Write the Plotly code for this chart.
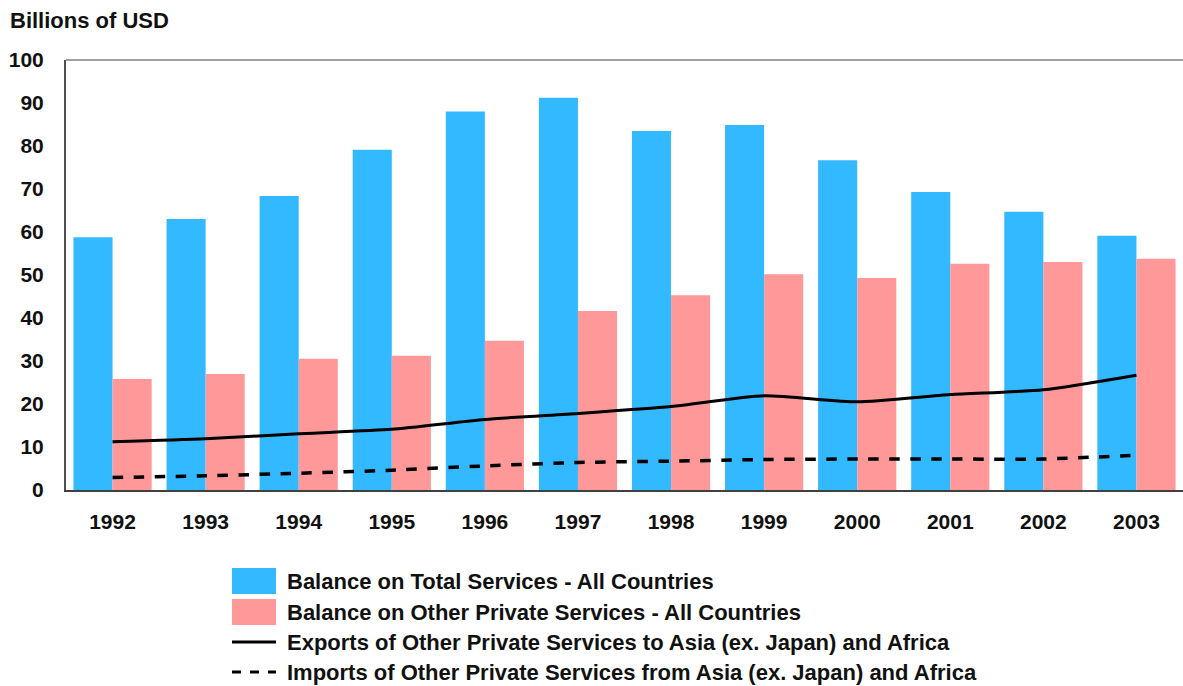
import plotly.graph_objects as go

years = ["1992", "1993", "1994", "1995", "1996", "1997",
         "1998", "1999", "2000", "2001", "2002", "2003"]
total_services = [58.8, 63.0, 68.4, 79.1, 88.0, 91.2, 83.5, 84.9, 76.7, 69.3, 64.7, 59.1]
other_private = [25.8, 27.0, 30.5, 31.2, 34.7, 41.6, 45.3, 50.2, 49.3, 52.6, 53.0, 53.8]
exports_asia_africa = [11.2, 11.9, 13.1, 14.1, 16.4, 17.8, 19.4, 21.9, 20.5, 22.2, 23.3, 26.7]
imports_asia_africa = [2.9, 3.3, 3.9, 4.6, 5.6, 6.4, 6.7, 7.1, 7.2, 7.2, 7.2, 8.1]

series_names = [
    "Balance on Total Services - All Countries",
    "Balance on Other Private Services - All Countries",
    "Exports of Other Private Services to Asia (ex. Japan) and Africa",
    "Imports of Other Private Services from Asia (ex. Japan) and Africa",
]

BLUE = "#33b9ff"
PINK = "#ff9999"
FONT = "Liberation Sans, Arial, sans-serif"
TEXT = "#111111"

W, H = 1183, 686
ML, MR, MT, MB = 66, 0, 60, 196
PW, PH = W - ML - MR, H - MT - MB


def px_to_paper(x, y):
    return (x - ML) / PW, (H - MB - y) / PH


fig = go.Figure()
fig.add_trace(go.Bar(x=years, y=total_services, name=series_names[0],
                     marker=dict(color=BLUE, line=dict(width=0))))
fig.add_trace(go.Bar(x=years, y=other_private, name=series_names[1],
                     marker=dict(color=PINK, line=dict(width=0))))
fig.add_trace(go.Scatter(x=years, y=exports_asia_africa, name=series_names[2],
                         mode="lines", line=dict(color="black", width=3,
                                                 shape="spline", smoothing=0.6)))
fig.add_trace(go.Scatter(x=years, y=imports_asia_africa, name=series_names[3],
                         mode="lines", line=dict(color="black", width=3.5,
                                                 dash="dash", shape="spline",
                                                 smoothing=0.6)))

# hand-built legend block below the plot
shapes = []
annotations = []
row_y = [581, 612, 642, 672]
for i, name in enumerate(series_names):
    cy = row_y[i]
    if i < 2:
        x0, y0 = px_to_paper(232, cy - 13)
        x1, y1 = px_to_paper(276, cy + 13)
        shapes.append(dict(type="rect", xref="paper", yref="paper",
                           x0=x0, x1=x1, y0=y0, y1=y1,
                           fillcolor=BLUE if i == 0 else PINK,
                           line=dict(width=0)))
    else:
        x0, y0 = px_to_paper(232, cy)
        x1, _ = px_to_paper(276, cy)
        shapes.append(dict(type="line", xref="paper", yref="paper",
                           x0=x0, x1=x1, y0=y0, y1=y0,
                           line=dict(color="black", width=3,
                                     dash="solid" if i == 2 else "dash")))
    tx, ty = px_to_paper(285, cy)
    annotations.append(dict(text=name, xref="paper", yref="paper", x=tx, y=ty,
                            xanchor="left", yanchor="middle", showarrow=False,
                            font=dict(family=FONT, size=22, color=TEXT,
                                      weight="bold")))

# top frame line of the plot area
shapes.append(dict(type="line", xref="paper", yref="paper", x0=0, x1=1, y0=1, y1=1,
                   line=dict(color="#a0a0a0", width=2)))

tx, ty = px_to_paper(8, 20)
annotations.append(dict(text="Billions of USD", xref="paper", yref="paper",
                        x=tx, y=ty, xanchor="left", yanchor="middle",
                        showarrow=False,
                        font=dict(family=FONT, size=22, color=TEXT, weight="bold")))

fig.update_layout(
    width=W, height=H,
    margin=dict(l=ML, r=MR, t=MT, b=MB),
    paper_bgcolor="white", plot_bgcolor="white",
    barmode="group", bargap=0.16, bargroupgap=0,
    showlegend=False,
    font=dict(family=FONT, size=19, color=TEXT),
    shapes=shapes, annotations=annotations,
    xaxis=dict(range=[-0.5, 11.5], showgrid=False, zeroline=False,
               showline=True, linecolor="#404040", linewidth=2,
               ticks="", ticklabelstandoff=12, layer="below traces",
               tickfont=dict(family=FONT, size=21, color=TEXT, weight="bold")),
    yaxis=dict(range=[0, 100], dtick=10, showgrid=False, zeroline=False,
               showline=True, linecolor="#505050", linewidth=2,
               ticks="", ticklabelstandoff=16,
               tickfont=dict(family=FONT, size=21, color=TEXT, weight="bold")),
)

fig.write_html("out.html")
